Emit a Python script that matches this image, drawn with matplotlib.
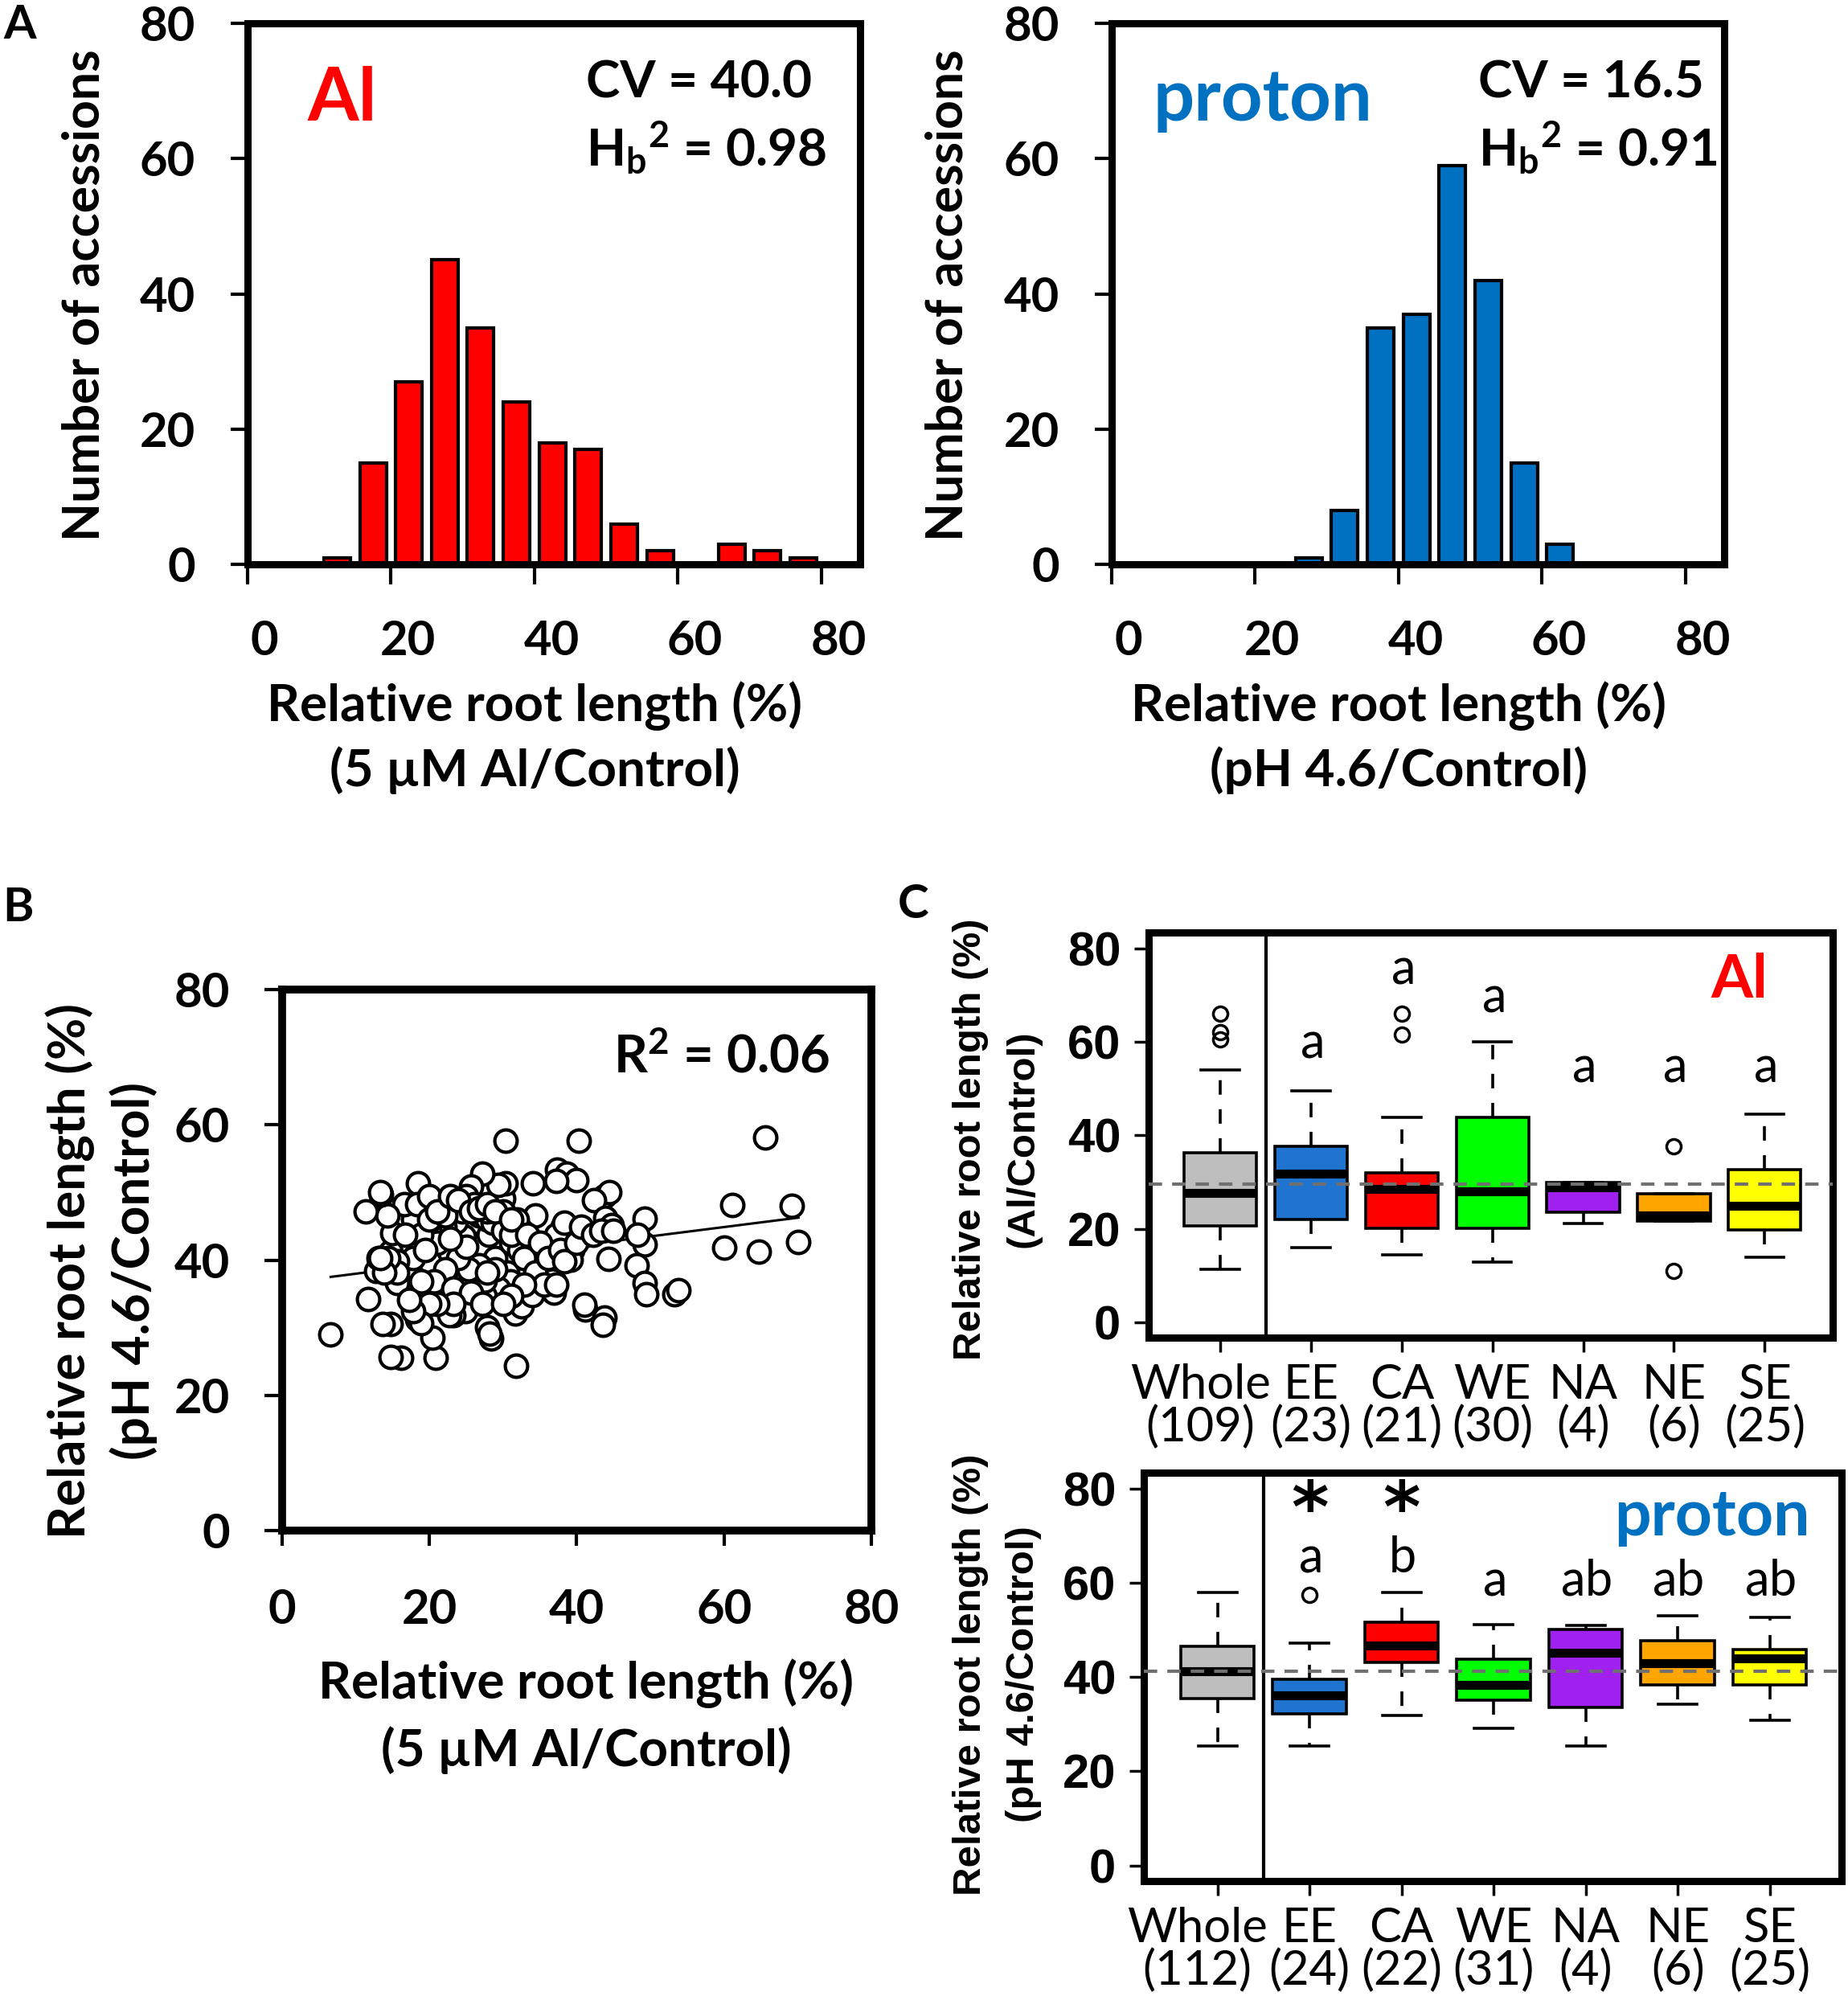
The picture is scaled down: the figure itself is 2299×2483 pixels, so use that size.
import numpy as np
import matplotlib
matplotlib.use("Agg")
import matplotlib.pyplot as plt
import matplotlib.transforms as mtransforms

plt.rcParams['font.family'] = ['Lato', 'DejaVu Sans']
plt.rcParams['mathtext.fontset'] = 'custom'
plt.rcParams['mathtext.rm'] = 'Lato'
plt.rcParams['mathtext.bf'] = 'Lato:bold'
plt.rcParams['mathtext.default'] = 'bf'

# ---------------- data ----------------
# panel A histograms (bin centres, counts)
al_bins = [12.5, 17.5, 22.5, 27.5, 32.5, 37.5, 42.5, 47.5, 52.5, 57.5, 62.5, 67.5, 72.5, 77.5]
al_counts = [1, 15, 27, 45, 35, 24, 18, 17, 6, 2, 0, 3, 2, 1]
pr_bins = [27.5, 32.5, 37.5, 42.5, 47.5, 52.5, 57.5, 62.5]
pr_counts = [1, 8, 35, 37, 59, 42, 15, 3]

# panel B scatter (Al %, proton %)
scat_x = [6.6, 30.3, 40.3, 65.6, 61.1, 69.2, 60.0, 64.7, 70.1, 49.2, 49.2, 48.2, 48.1, 49.2,
          49.4, 53.3, 53.8, 44.3, 43.8, 44.4, 42.3, 43.9, 44.7, 41.1, 41.0, 43.8, 43.6, 41.4,
          39.4, 39.2, 38.9, 38.1, 37.3, 38.6, 39.9, 37.2, 34.0, 34.4, 36.9, 36.9, 36.7, 31.8,
          31.7, 32.5, 33.9, 32.5, 31.9, 30.6, 31.0, 29.4, 33.3, 30.0, 30.3, 29.4, 27.2, 25.6,
          27.8, 28.4, 28.2, 27.5, 27.5, 24.9, 24.9, 26.4, 26.1, 28.1, 28.9, 24.7, 22.8, 23.6,
          23.6, 23.0, 22.1, 23.3, 22.7, 21.7, 21.7, 20.8, 20.4, 20.0, 20.1, 20.6, 19.3, 19.4,
          18.9, 18.3, 18.4, 17.8, 16.6, 17.0, 16.7, 17.2, 15.6, 16.2, 14.7, 14.7, 13.6, 11.7,
          12.8, 13.1, 14.7, 14.9, 14.3, 11.4, 13.4, 13.3,
          23.3, 24.4, 26.7, 27.8, 28.6, 30.0, 31.1, 32.2, 33.3, 34.4, 35.6, 37.2, 38.3, 28.9,
          26.7, 25.3, 23.9, 22.2, 21.1, 18.9, 17.8, 15.6, 19.4, 20.6, 23.3, 25.6, 27.2, 23.3,
          21.1, 18.9, 16.7, 18.3, 20.0, 22.2, 25.0, 26.1, 27.8, 30.0, 31.1, 32.8, 34.4, 35.6,
          32.8, 31.1, 30.0, 27.8, 25.0, 22.8, 20.0, 18.9, 17.8, 17.2, 15.6, 14.4, 13.9, 13.3,
          20.0, 21.1, 22.8, 23.9, 25.6, 26.7, 27.8, 28.9, 31.1, 33.3, 35.0, 36.1, 37.8, 38.3,
          37.2, 40.0, 40.6, 42.2, 43.3, 45.0]
scat_y = [29.0, 57.7, 57.7, 58.1, 48.2, 48.0, 41.9, 41.2, 42.7, 46.1, 42.3, 43.8, 39.2, 36.6,
          34.9, 34.9, 35.5, 40.2, 49.4, 50.0, 48.9, 46.3, 45.2, 32.7, 33.4, 31.5, 30.4, 43.8,
          41.5, 40.1, 44.9, 44.9, 53.4, 52.8, 51.8, 51.7, 51.4, 46.6, 37.0, 35.2, 37.0, 24.4,
          32.1, 33.2, 34.8, 44.3, 46.0, 38.1, 36.9, 35.8, 40.9, 49.1, 51.4, 51.1, 52.8, 50.9,
          30.1, 28.4, 29.1, 34.7, 37.0, 32.5, 36.8, 45.7, 47.2, 43.8, 40.3, 43.5, 40.9, 45.7,
          48.3, 48.9, 44.9, 31.8, 31.9, 35.8, 38.1, 25.5, 28.5, 39.8, 44.0, 46.3, 48.3, 34.9,
          32.6, 31.3, 51.4, 46.0, 48.3, 41.8, 38.6, 35.8, 36.6, 25.5, 25.7, 30.6, 30.6, 34.2,
          38.4, 40.3, 41.2, 44.0, 46.6, 47.2, 49.7, 50.0,
          48.3, 47.2, 46.6, 46.0, 45.5, 44.3, 42.6, 41.5, 40.3, 39.8, 41.2, 43.8, 45.5, 38.6,
          39.2, 38.6, 40.3, 38.6, 42.6, 43.8, 40.3, 39.8, 41.5, 36.9, 35.8, 35.2, 33.5, 33.5,
          33.5, 36.9, 43.8, 48.3, 46.0, 46.6, 49.4, 48.3, 47.2, 47.2, 43.8, 40.3, 38.1, 36.4,
          36.4, 34.7, 33.5, 38.1, 42.0, 43.2, 33.5, 30.7, 32.4, 34.1, 38.1, 40.3, 38.1, 40.3,
          49.4, 47.2, 49.4, 48.9, 47.2, 47.7, 48.3, 47.2, 46.0, 43.8, 42.6, 40.3, 41.5, 39.8,
          36.4, 42.6, 44.9, 43.8, 44.3, 44.3]
fit_slope = 0.138
fit_intercept = 36.6

# panel C box plots
groups = ['Whole', 'EE', 'CA', 'WE', 'NA', 'NE', 'SE']
group_colors = ['#BEBEBE', '#1E74CE', '#FF0000', '#00FF00', '#A020F0', '#FFA500', '#FFFF00']
al_n = [109, 23, 21, 30, 4, 6, 25]
al_lo = [11.3, 16.0, 14.5, 12.9, 21.1, 21.6, 13.9]
al_q1 = [20.6, 22.0, 20.1, 20.1, 23.5, 21.6, 19.7]
al_med = [27.6, 31.8, 28.5, 28.0, 28.9, 22.8, 24.9]
al_q3 = [36.3, 37.7, 31.9, 43.8, 29.9, 27.5, 32.6]
al_hi = [53.9, 49.5, 43.8, 60.0, 29.9, 27.5, 44.6]
al_fliers = [[66.0, 62.0, 60.5], [], [66.0, 61.5], [], [], [37.6, 11.0], []]
al_mean_line = 29.6
al_letters = ['', 'a', 'a', 'a', 'a', 'a', 'a']
al_letter_y = [0, 56.7, 72.5, 66.4, 51.5, 51.5, 51.5]

pr_n = [112, 24, 22, 31, 4, 6, 25]
pr_lo = [25.3, 25.3, 31.8, 29.1, 25.3, 34.2, 30.8]
pr_q1 = [35.4, 32.2, 43.2, 35.1, 33.5, 38.3, 38.3]
pr_med = [41.2, 36.2, 46.7, 38.3, 45.2, 43.0, 43.9]
pr_q3 = [46.6, 39.6, 51.6, 43.8, 50.1, 47.8, 45.9]
pr_hi = [58.0, 47.2, 58.0, 51.1, 50.9, 53.0, 52.6]
pr_fliers = [[], [57.4], [], [], [], [], []]
pr_mean_line = 41.2
pr_letters = ['', 'a', 'b', 'a', 'ab', 'ab', 'ab']
pr_letter_y = [0, 62.3, 62.3, 57.4, 57.4, 57.4, 57.4]
pr_stars = ['', '*', '*', '', '', '', '']
pr_star_y = 75.3

# ---------------- layout ----------------
W, H = 2299, 2483
fig = plt.figure(figsize=(W / 100, H / 100), dpi=100)


def add_ax(l, r, t, b):
    return fig.add_axes([l / W, 1 - b / H, (r - l) / W, (b - t) / H])


def ftext(px, py, s, **kw):
    fig.text(px / W, 1 - py / H, s, **kw)


def frame(ax, lw=6.5):
    for sp in ax.spines.values():
        sp.set_linewidth(lw)
        sp.set_color('black')


def shift_label(lbl, dx_px):
    off = mtransforms.ScaledTranslation(dx_px / 100, 0, fig.dpi_scale_trans)
    lbl.set_transform(lbl.get_transform() + off)


# ---------------- panel A ----------------
hist_specs = [
    (308, 1070, al_bins, al_counts, '#FF0000', 'Al', 426, '40.0', '0.98',
     729, '(5 µM Al/Control)', 106),
    (1383, 2145, pr_bins, pr_counts, '#0070C0', 'proton', 1571, '16.5', '0.91',
     1839, '(pH 4.6/Control)', 1180),
]
for (l, r, bins, counts, col, name, nx, cv, hb, tx, sub, ylx) in hist_specs:
    ax = add_ax(l, r, 29, 702)
    ax.bar(bins, counts, width=3.7, color=col, edgecolor='black', linewidth=3, zorder=2)
    ax.set_xlim(0, 85.4)
    ax.set_ylim(0, 80)
    ax.set_xticks([0, 20, 40, 60, 80])
    ax.set_yticks([0, 20, 40, 60, 80])
    frame(ax)
    ax.tick_params(axis='y', length=15, width=3, pad=32, labelsize=43)
    ax.tick_params(axis='x', length=18, width=3, pad=32, labelsize=43)
    for lbl in ax.get_xticklabels() + ax.get_yticklabels():
        lbl.set_fontweight('bold')
    for lbl in ax.get_xticklabels():
        shift_label(lbl, 21)
    fsize = 66 if name == 'Al' else 65
    ftext(nx, 150, name, color=col, fontsize=fsize, fontweight='bold', ha='center',
          va='baseline')
    ftext(tx, 121, 'CV = ' + cv, fontsize=46, fontweight='bold', ha='left', va='baseline')
    ftext(tx, 207, r'H$_b$$^2$ = ' + hb, fontsize=46, fontweight='bold', ha='left',
          va='baseline')
    ftext(ylx, 367, 'Number of accessions', fontsize=45, fontweight='bold', rotation=90,
          ha='center', va='center')
    cx = l + 40 / 85.4 * (r - l)
    ftext(cx, 878, 'Relative root length (%)', fontsize=46, fontweight='bold',
          ha='center', va='center')
    ftext(cx, 958, sub, fontsize=46, fontweight='bold', ha='center', va='center')

ftext(25, 31, 'A', fontsize=42, fontweight='bold', ha='center', va='center')

# ---------------- panel B ----------------
axb = add_ax(351, 1084, 1231, 1904)
axb.plot(scat_x, scat_y, 'o', markersize=20, markerfacecolor='white',
         markeredgecolor='black', markeredgewidth=3, zorder=3)
fx = np.array([min(scat_x), max(scat_x)])
axb.plot(fx, fit_intercept + fit_slope * fx, color='black', linewidth=2.2, zorder=2)
axb.set_xlim(0, 80)
axb.set_ylim(0, 80)
axb.set_xticks([0, 20, 40, 60, 80])
axb.set_yticks([0, 20, 40, 60, 80])
frame(axb, 7)
axb.tick_params(axis='y', length=16, width=3, pad=31, labelsize=43)
axb.tick_params(axis='x', length=14, width=3, pad=38, labelsize=43)
for lbl in axb.get_xticklabels() + axb.get_yticklabels():
    lbl.set_fontweight('bold')
ftext(763, 1315, r'R$^2$ = 0.06', fontsize=47, fontweight='bold', ha='left', va='center')
ftext(22, 1129, 'B', fontsize=42, fontweight='bold', ha='center', va='center')
ftext(87, 1581, 'Relative root length (%)', fontsize=46, fontweight='bold', rotation=90,
      ha='center', va='center')
ftext(166, 1581, '(pH 4.6/Control)', fontsize=46, fontweight='bold', rotation=90,
      ha='center', va='center')
ftext(729, 2094, 'Relative root length (%)', fontsize=46, fontweight='bold',
      ha='center', va='center')
ftext(729, 2177, '(5 µM Al/Control)', fontsize=46, fontweight='bold', ha='center', va='center')

# ---------------- panel C ----------------
box_specs = [
    (1429, 2280, 1160, 1664, (0.21, 7.75), al_lo, al_q1, al_med, al_q3, al_hi, al_fliers,
     al_n, al_mean_line, al_letters, al_letter_y, None, 'Al', '#FF0000', 54, 2164, 1241,
     'center', '(Al/Control)', 1417),
    (1423, 2291, 1832, 2340, (0.2, 7.78), pr_lo, pr_q1, pr_med, pr_q3, pr_hi, pr_fliers,
     pr_n, pr_mean_line, pr_letters, pr_letter_y, pr_stars, 'proton', '#0070C0', 58, 2252,
     1910, 'right', '(pH 4.6/Control)', 2083),
]
pos = np.arange(1, len(groups) + 1)
for (l, r, t, b, xl, lo, q1, med, q3, hi, fl, n, mline, letters, ly, stars, name, ncol,
     nsize, nx, ny, nha, sub, ycen) in box_specs:
    ax = add_ax(l, r, t, b)
    stats = [dict(med=med[i], q1=q1[i], q3=q3[i], whislo=lo[i], whishi=hi[i], fliers=fl[i])
             for i in range(len(groups))]
    bp = ax.bxp(stats, positions=pos, widths=0.8, patch_artist=True, capwidths=0.42,
                boxprops=dict(linewidth=2.6, edgecolor='black'),
                medianprops=dict(color='black', linewidth=8, solid_capstyle='butt'),
                whiskerprops=dict(linestyle=(0, (5, 5)), linewidth=2.6, color='black'),
                capprops=dict(linewidth=2.6, color='black'),
                flierprops=dict(marker='o', markerfacecolor='none', markeredgecolor='black',
                                markersize=13, markeredgewidth=2.5))
    for patch, c in zip(bp['boxes'], group_colors):
        patch.set_facecolor(c)
    ax.axhline(mline, color='#707070', linewidth=3, linestyle=(0, (4, 3)), zorder=5)
    ax.axvline(1.5, color='black', linewidth=3)
    for i, s in enumerate(letters):
        if s:
            ax.text(pos[i], ly[i], r'$\mathregular{%s}$' % s, fontsize=44, ha='center',
                    va='baseline')
    if stars:
        for i, s in enumerate(stars):
            if s:
                ax.text(pos[i], pr_star_y, r'$\mathbf{%s}$' % s, fontsize=64,
                        math_fontfamily='dejavusans', ha='center', va='center')
    ax.set_xlim(*xl)
    ax.set_ylim(-3.3, 83.4)
    ax.set_yticks([0, 20, 40, 60, 80])
    ax.set_xticks(pos)
    ax.set_xticklabels(['%s\n(%d)' % (g, k) for g, k in zip(groups, n)])
    frame(ax, 6.5)
    ax.tick_params(axis='y', length=13, width=2.5, pad=12, labelsize=43)
    ax.tick_params(axis='x', length=13, width=2.5, pad=10, labelsize=43)
    for lbl in ax.get_yticklabels():
        lbl.set_fontweight('bold')
        lbl.set_family('Liberation Sans')
    xlbls = ax.get_xticklabels()
    for lbl in xlbls:
        lbl.set_linespacing(0.95)
    shift_label(xlbls[0], -25)
    ftext(nx, ny, name, color=ncol, fontsize=nsize, fontweight='bold', ha=nha,
          va='baseline')
    ftext(1207, ycen, 'Relative root length (%)', fontsize=35.5, fontweight='bold',
          family='Liberation Sans', rotation=90, ha='center', va='center')
    ftext(1273, ycen, sub, fontsize=35.5, fontweight='bold', family='Liberation Sans',
          rotation=90, ha='center', va='center')

ftext(1136, 1125, 'C', fontsize=42, fontweight='bold', ha='center', va='center')

fig.savefig('out.png', dpi=100)
